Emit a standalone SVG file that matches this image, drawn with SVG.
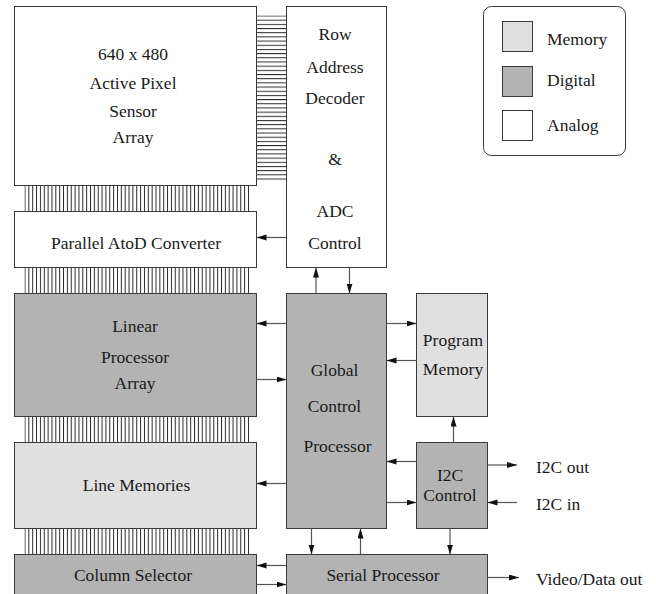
<svg xmlns="http://www.w3.org/2000/svg" width="656" height="594" viewBox="0 0 656 594">
  <style>
    .box { stroke: #3a3a3a; stroke-width: 1; }
    .analog { fill: #ffffff; }
    .digital { fill: #b3b3b3; }
    .memory { fill: #e0e0e0; }
    .conn { stroke: #555555; stroke-width: 1.2; fill: none; marker-end: url(#ah); }
    text { font-family: 'Liberation Serif', 'Times New Roman', serif; font-size: 17.5px; fill: #1a1a1a; }
    .c { text-anchor: middle; }
  </style>
  <defs>
    <marker id="ah" markerUnits="userSpaceOnUse" markerWidth="11" markerHeight="7" refX="10" refY="3" orient="auto">
      <path d="M0,0 L10,3 L0,6 z" fill="#111111"/>
    </marker>
    <!-- column bus: 59 vertical wires -->
    <pattern id="vbus" patternUnits="userSpaceOnUse" x="24.5" y="0" width="3.853" height="10">
      <rect x="0" y="0" width="1" height="10" fill="#2a2a2a"/>
    </pattern>
    <!-- row bus: horizontal wires -->
    <pattern id="hbus" patternUnits="userSpaceOnUse" x="0" y="15.5" width="10" height="4.18">
      <rect x="0" y="0" width="10" height="1" fill="#2a2a2a"/>
    </pattern>
  </defs>

  <!-- buses -->
  <g id="buses">
    <rect x="24.5" y="185.5" width="225" height="26" fill="url(#vbus)"/>
    <rect x="24.5" y="267.5" width="225" height="26" fill="url(#vbus)"/>
    <rect x="24.5" y="416.5" width="225" height="26" fill="url(#vbus)"/>
    <rect x="24.5" y="528.5" width="225" height="26" fill="url(#vbus)"/>
    <rect x="256.5" y="15.5" width="30" height="165" fill="url(#hbus)"/>
  </g>

  <g id="sensor">
    <rect class="box analog" x="14.5" y="6.5" width="242" height="179"/>
    <text class="c" x="133" y="60">640 x 480</text>
    <text class="c" x="133" y="89">Active Pixel</text>
    <text class="c" x="133" y="117">Sensor</text>
    <text class="c" x="133" y="143">Array</text>
  </g>
  <g id="atod">
    <rect class="box analog" x="14.5" y="211.5" width="242" height="56"/>
    <text class="c" x="136" y="249">Parallel AtoD Converter</text>
  </g>
  <g id="lpa">
    <rect class="box digital" x="14.5" y="293.5" width="242" height="123"/>
    <text class="c" x="135" y="332">Linear</text>
    <text class="c" x="135" y="363">Processor</text>
    <text class="c" x="135" y="389">Array</text>
  </g>
  <g id="linemem">
    <rect class="box memory" x="14.5" y="442.5" width="242" height="86"/>
    <text class="c" x="136.5" y="491">Line Memories</text>
  </g>
  <g id="colsel">
    <rect class="box digital" x="14.5" y="554.5" width="242" height="50"/>
    <text class="c" x="133" y="581">Column Selector</text>
  </g>
  <g id="decoder">
    <rect class="box analog" x="286.5" y="6.5" width="100" height="261"/>
    <text class="c" x="335" y="40">Row</text>
    <text class="c" x="335" y="73">Address</text>
    <text class="c" x="335" y="104">Decoder</text>
    <text class="c" x="335" y="165">&amp;</text>
    <text class="c" x="335" y="217">ADC</text>
    <text class="c" x="335" y="248.5">Control</text>
  </g>
  <g id="gcp">
    <rect class="box digital" x="286.5" y="293.5" width="100" height="235"/>
    <text class="c" x="334.5" y="376">Global</text>
    <text class="c" x="334.5" y="411.5">Control</text>
    <text class="c" x="337.5" y="452">Processor</text>
  </g>
  <g id="progmem">
    <rect class="box memory" x="416.5" y="293.5" width="71" height="123"/>
    <text class="c" x="453" y="346">Program</text>
    <text class="c" x="453" y="374.5">Memory</text>
  </g>
  <g id="i2c">
    <rect class="box digital" x="416.5" y="442.5" width="71" height="86"/>
    <text class="c" x="450" y="481">I2C</text>
    <text class="c" x="450" y="501">Control</text>
  </g>
  <g id="serial">
    <rect class="box digital" x="286.5" y="554.5" width="201" height="50"/>
    <text class="c" x="383" y="581">Serial Processor</text>
  </g>

  <g id="legend">
    <rect x="483.5" y="6.5" width="142" height="149" rx="8" fill="#ffffff" stroke="#3a3a3a"/>
    <rect class="box memory" x="502.5" y="21.5" width="30" height="30"/>
    <text x="547" y="45">Memory</text>
    <rect class="box digital" x="502.5" y="66.5" width="30" height="30"/>
    <text x="547" y="86">Digital</text>
    <rect class="box analog" x="502.5" y="110.5" width="30" height="30"/>
    <text x="547" y="131">Analog</text>
  </g>

  <g id="connectors">
    <line class="conn" x1="286.5" y1="237.5" x2="256.5" y2="237.5"/>
    <line class="conn" x1="316" y1="293.5" x2="316" y2="267.5"/>
    <line class="conn" x1="349.5" y1="267.5" x2="349.5" y2="293.5"/>
    <line class="conn" x1="286.5" y1="323.5" x2="256.5" y2="323.5"/>
    <line class="conn" x1="256.5" y1="379.5" x2="286.5" y2="379.5"/>
    <line class="conn" x1="286.5" y1="483.5" x2="256.5" y2="483.5"/>
    <line class="conn" x1="386.5" y1="323.5" x2="416.5" y2="323.5"/>
    <line class="conn" x1="416.5" y1="360.5" x2="386.5" y2="360.5"/>
    <line class="conn" x1="416.5" y1="461.5" x2="386.5" y2="461.5"/>
    <line class="conn" x1="386.5" y1="502.5" x2="416.5" y2="502.5"/>
    <line class="conn" x1="453.5" y1="442.5" x2="453.5" y2="416.5"/>
    <line class="conn" x1="311.5" y1="528.5" x2="311.5" y2="554.5"/>
    <line class="conn" x1="360.5" y1="554.5" x2="360.5" y2="528.5"/>
    <line class="conn" x1="450" y1="528.5" x2="450" y2="554.5"/>
    <line class="conn" x1="286.5" y1="565.5" x2="256.5" y2="565.5"/>
    <line class="conn" x1="256.5" y1="584.5" x2="286.5" y2="584.5"/>
    <line class="conn" x1="487.5" y1="465" x2="517" y2="465"/>
    <line class="conn" x1="517" y1="502.5" x2="487.5" y2="502.5"/>
    <line class="conn" x1="487.5" y1="577.5" x2="519" y2="577.5"/>
  </g>

  <g id="io-labels">
    <text x="536" y="473">I2C out</text>
    <text x="536" y="510">I2C in</text>
    <text x="536" y="585">Video/Data out</text>
  </g>
</svg>
